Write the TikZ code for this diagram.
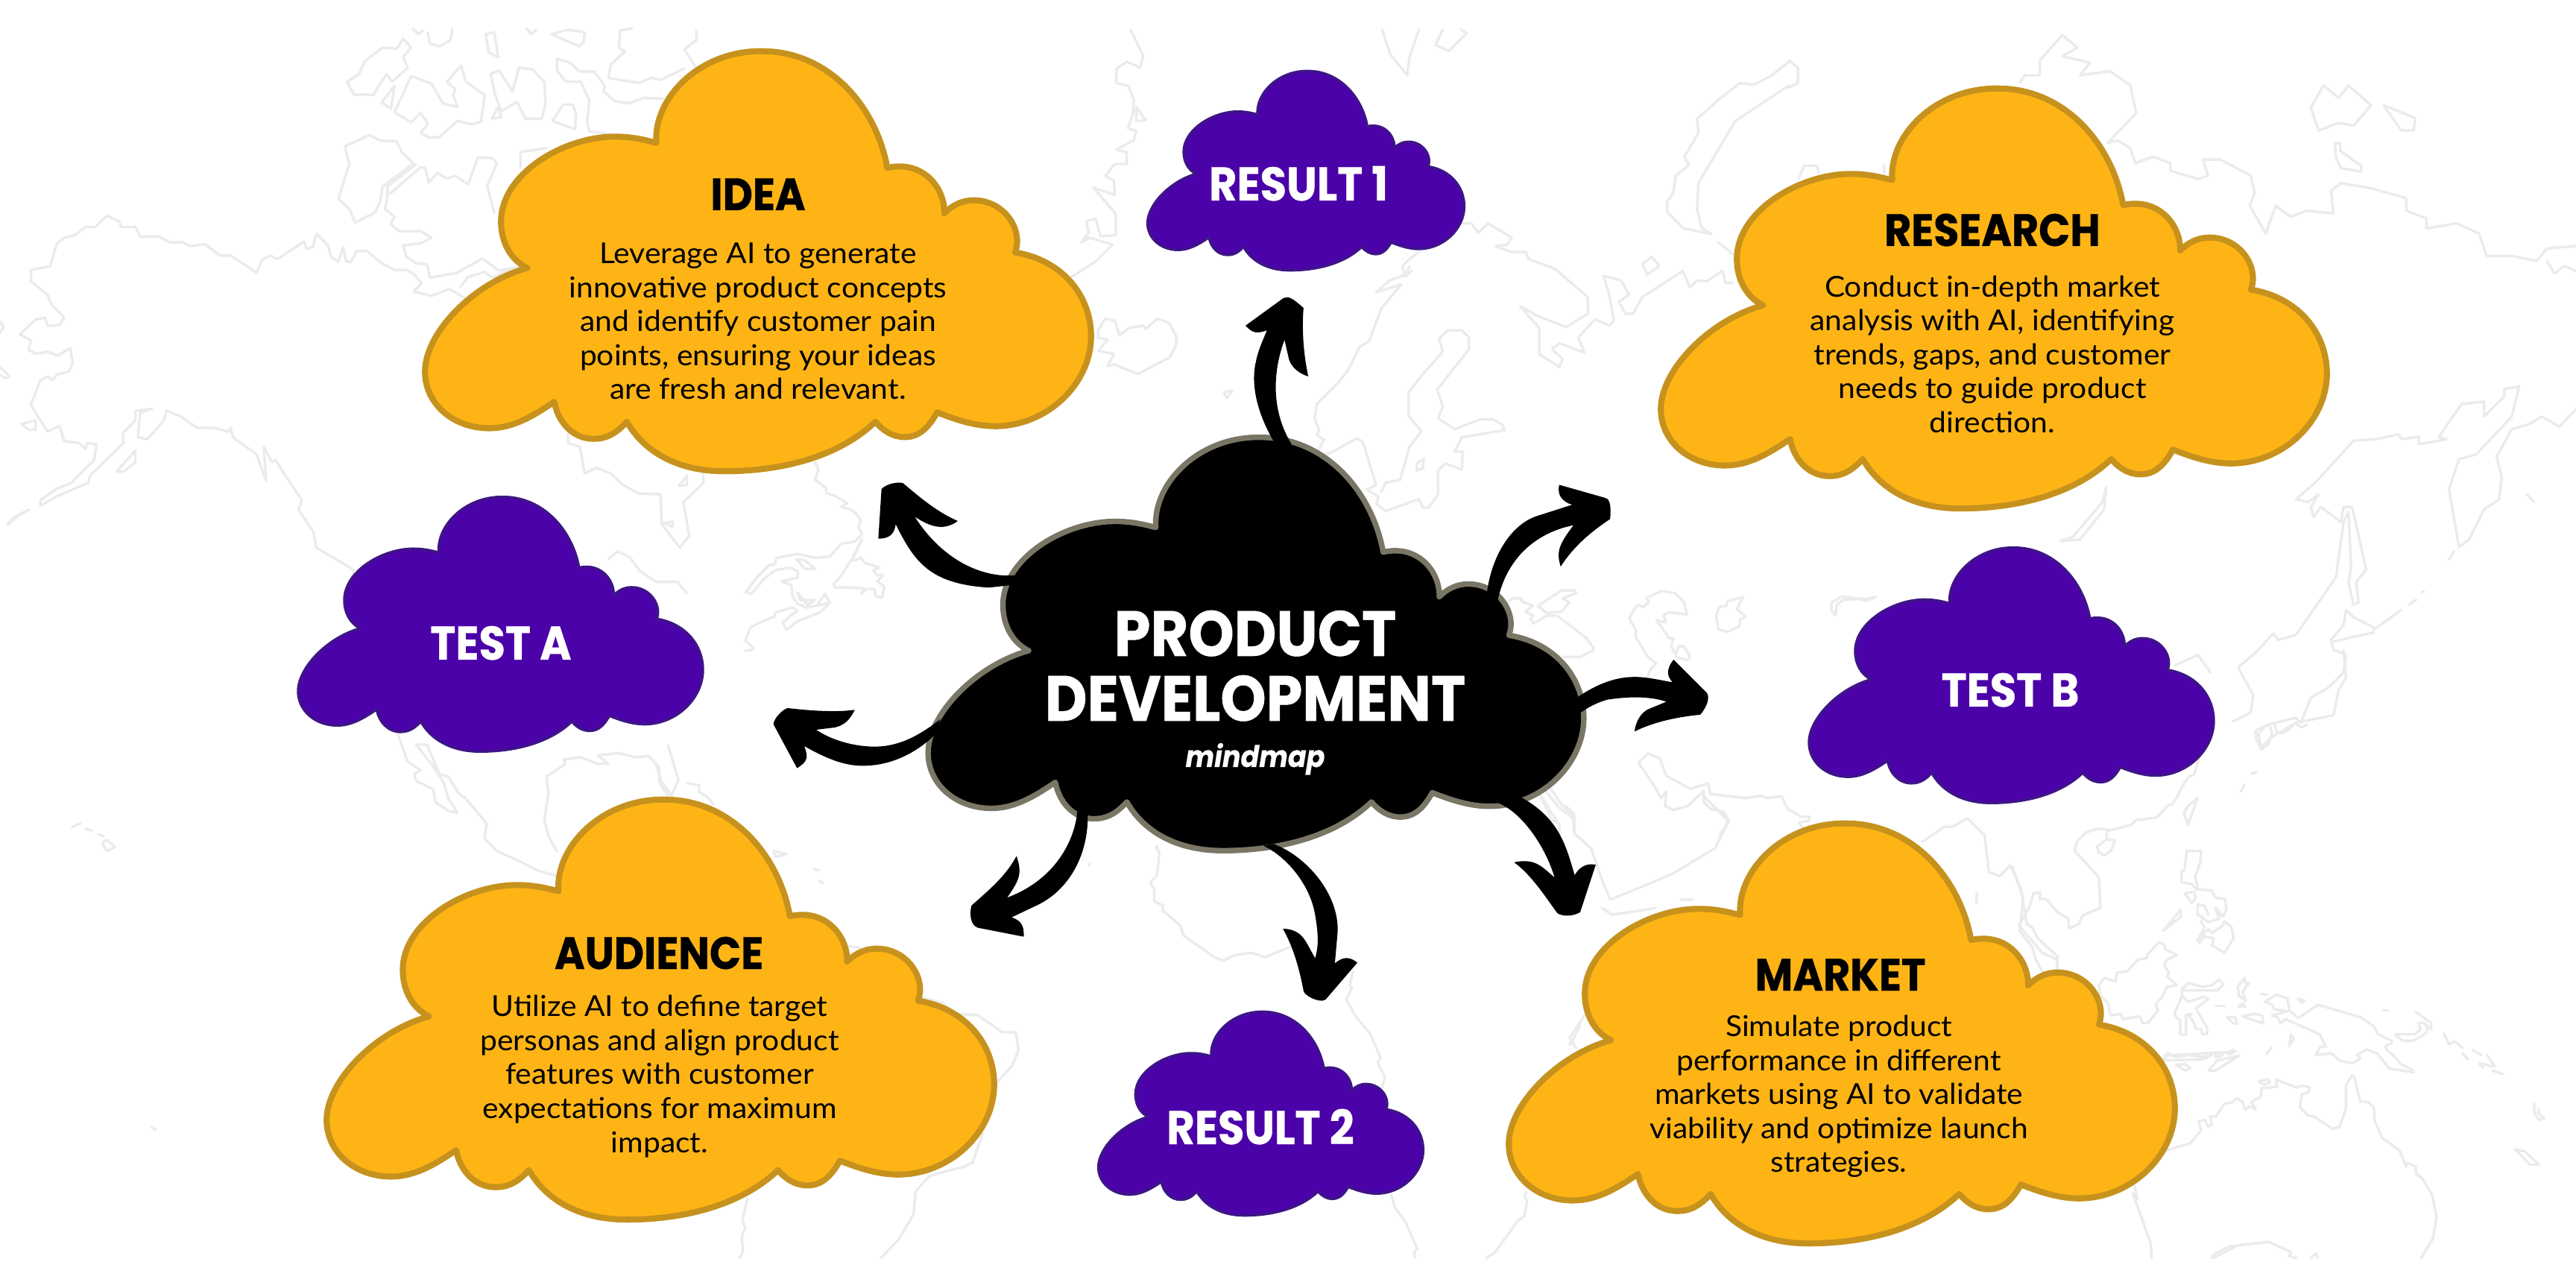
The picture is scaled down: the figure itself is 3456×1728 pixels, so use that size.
\documentclass[tikz,border=0pt]{standalone}
\usepackage{fontspec}
\setmainfont[FakeStretch=1.055]{Lato}
\newfontfamily\headf[FakeStretch=0.91,BoldFeatures={FakeBold=0.6},BoldItalicFeatures={FakeBold=0.3}]{Poppins}
\definecolor{gold}{HTML}{FFB416}
\definecolor{goldline}{HTML}{C6921D}
\definecolor{violet}{HTML}{4B02A8}
\definecolor{violetline}{HTML}{3D1585}
\definecolor{slateline}{HTML}{7A7666}
\definecolor{mapgray}{HTML}{EBEBEB}
\tikzset{
  mapline/.style={draw=mapgray,line width=0.95pt,line join=round,line cap=round},
  goldcloud/.style={fill=gold,draw=goldline,line width=2.3pt,line join=round},
  violetcloud/.style={fill=violet,draw=violetline,line width=0.95pt,line join=round},
  blackcloud/.style={fill=black,draw=slateline,line width=2.1pt,line join=round},
  brush/.style={fill=black,draw=none},
  headtext/.style={anchor=base,inner sep=0pt,text=black,font=\headf\bfseries\fontsize{17.3pt}{20pt}\selectfont},
  labeltext/.style={anchor=base,inner sep=0pt,text=white,font=\headf\bfseries\fontsize{18pt}{20pt}\selectfont},
  bodytext/.style={anchor=center,inner sep=0pt,align=center,text=black,font=\fontsize{11pt}{12.95pt}\selectfont},
}
\newcommand\cloudshape[5]{%
  \begin{scope}[shift={(#1,#2)},xscale={(#3-#1)/1412},yscale={(#4-#2)/1440}]
  \begin{scope}[shift={(-105,-65)}]
  \draw[#5] (597,383) .. controls (590,230) and (690,68) .. (820,72)
    .. controls (960,72) and (1060,260) .. (1083,468)
    .. controls (1160,440) and (1205,540) .. (1203,622)
    .. controls (1220,595) and (1240,578) .. (1265,578)
    .. controls (1330,578) and (1370,680) .. (1352,755)
    .. controls (1450,780) and (1512,900) .. (1512,1040)
    .. controls (1512,1200) and (1420,1345) .. (1310,1345)
    .. controls (1270,1345) and (1230,1325) .. (1188,1298)
    .. controls (1170,1350) and (1150,1382) .. (1120,1382)
    .. controls (1095,1382) and (1075,1362) .. (1058,1330)
    .. controls (980,1450) and (860,1498) .. (740,1498)
    .. controls (640,1498) and (570,1430) .. (535,1330)
    .. controls (515,1365) and (495,1388) .. (465,1388)
    .. controls (420,1388) and (390,1330) .. (382,1262)
    .. controls (330,1320) and (290,1352) .. (245,1352)
    .. controls (170,1352) and (110,1270) .. (110,1160)
    .. controls (110,1030) and (210,860) .. (325,808)
    .. controls (290,780) and (270,720) .. (270,650)
    .. controls (270,490) and (400,362) .. (510,362)
    .. controls (545,362) and (570,372) .. (597,383) -- cycle;
  \end{scope}
  \end{scope}}
\newcommand\mapl[1]{\draw[mapline] plot coordinates {#1};}
\begin{document}
\begin{tikzpicture}[x=0.01cm,y=-0.01cm]
\useasboundingbox (0,0) rectangle (3456,1728);
\fill[white] (0,0) rectangle (3456,1728);
% ---------- background map ----------
\begin{scope}[shift={(0,0)},xscale={1/1.568},yscale={1/1.96}]
\mapl{(65,710)(105,700)(120,640)(135,625)(155,620)(180,597)(200,597)(225,567)(250,582)(255,597)(285,597)(295,622)(335,622)(357,637)(385,637)(400,647)(432,642)(462,672)(485,672)(540,717)(552,682)(570,672)(583,682)(640,635)(645,655)(658,650)(666,615)(690,645)(697,677)(712,687)(722,650)(728,687)(738,690)(750,660)(772,660)(800,690)(830,710)(855,710)(870,720)(887,745)(870,767)(908,778)(945,760)(980,785)}
\mapl{(65,710)(65,740)(100,775)(108,800)(135,835)(125,855)(100,857)(95,835)(75,840)(42,880)(65,895)(60,920)(75,930)(100,925)(122,935)(148,915)(153,955)(145,977)(120,985)(110,1000)(100,990)(85,1000)(65,1065)(100,1135)(125,1120)(135,1160)(165,1165)(180,1180)(183,1165)(203,1168)(198,1210)(150,1270)(120,1285)(85,1315)(85,1330)(120,1305)(185,1270)(190,1250)(260,1165)(258,1140)(285,1105)(285,1080)(320,1075)(295,1085)(290,1150)(310,1155)(345,1105)(350,1080)(380,1095)(415,1125)(450,1125)(480,1135)(485,1125)(490,1150)(540,1195)(560,1265)(555,1175)(572,1215)(580,1210)(600,1250)(635,1315)(628,1340)(660,1400)(665,1440)(720,1480)(745,1500)(725,1568)}
\mapl{(15,1380)(45,1350)(62,1340)(30,1360)(15,1380)}
\mapl{(45,1115)(75,1105)(75,1130)(60,1130)(45,1115)}
\mapl{(245,1240)(285,1185)(285,1215)(260,1240)(245,1240)}
\mapl{(0,965)(20,990)(10,995)(0,985)}
\mapl{(0,845)(8,860)(0,875)}
\mapl{(730,215)(755,195)(768,160)(805,125)(835,128)(848,102)(865,125)(848,150)(858,178)(825,215)(813,195)(785,250)(760,248)(745,250)(730,215)}
\mapl{(803,270)(830,225)(823,285)(803,270)}
\mapl{(830,295)(865,200)(908,220)(932,272)(963,282)(953,250)(958,235)(940,215)(970,172)(980,215)(1020,250)(1012,320)(993,327)(962,318)(925,360)(905,362)(885,350)(900,325)(885,297)(865,322)(830,295)}
\mapl{(1032,195)(1050,185)(1078,240)(1092,178)(1120,182)(1145,215)(1148,270)(1140,312)(1105,312)(1088,268)(1055,292)(1042,250)(1032,195)}
\mapl{(1035,312)(1047,282)(1055,308)(1035,312)}
\mapl{(1162,318)(1185,275)(1205,275)(1212,300)(1210,340)(1162,318)}
\mapl{(1172,155)(1200,165)(1218,188)(1250,188)(1272,225)(1270,240)(1292,265)(1322,272)(1355,257)(1395,260)}
\mapl{(1172,155)(1172,185)(1190,215)(1222,215)(1240,265)(1235,320)(1240,345)(1290,355)}
\mapl{(1330,75)(1305,80)(1302,125)(1315,135)(1285,170)(1280,205)(1345,218)(1370,205)(1390,210)(1440,180)}
\mapl{(1465,80)(1465,105)(1440,130)(1465,180)}
\mapl{(900,85)(905,115)(925,122)(948,105)(952,75)}
\mapl{(868,75)(880,90)(890,80)}
\mapl{(1022,90)(1040,85)(1048,150)(1028,138)(1022,90)}
\mapl{(1160,90)(1195,78)(1230,85)(1228,110)(1218,122)(1160,90)}
\mapl{(1108,75)(1118,90)(1128,78)}
\mapl{(725,385)(778,355)(800,370)(835,372)(845,400)(870,430)(805,490)(800,530)(788,560)(747,585)(735,550)(712,522)(735,430)(725,385)}
\mapl{(875,432)(815,490)(815,520)(810,550)(830,570)(822,590)(840,608)(885,608)(908,625)(885,640)(848,645)(855,675)(875,692)(898,695)(905,730)(960,718)(1015,680)(1050,712)(1095,700)}
\mapl{(820,510)(885,440)(895,442)(902,480)(920,455)(940,470)(958,462)(985,485)(1005,415)(1035,415)(1045,430)(1025,490)(1040,560)}
\mapl{(968,755)(985,728)(1020,715)(1035,730)(1080,705)}
\mapl{(1095,440)(1095,400)(1120,395)(1150,390)}
\mapl{(1195,1140)(1195,1165)(1220,1175)(1230,1245)(1255,1230)(1285,1245)(1310,1275)(1345,1298)(1390,1300)(1392,1378)(1430,1440)(1450,1410)(1438,1320)(1480,1270)(1480,1240)}
\mapl{(1395,1375)(1415,1385)(1415,1372)(1395,1375)}
\mapl{(1428,1278)(1445,1252)(1445,1275)(1428,1278)}
\mapl{(1280,1470)(1300,1450)(1325,1465)(1345,1500)(1380,1530)(1425,1530)(1445,1560)}
\end{scope}
\begin{scope}[shift={(0,830)},scale={1/1.746}]
\mapl{(930,265)(955,335)(985,355)(970,365)(975,380)(1015,400)(1020,430)(1050,450)(1072,455)(1050,420)(1040,385)(1010,340)(975,295)(1000,295)(1030,365)(1050,370)(1075,410)(1090,420)(1140,480)(1135,515)(1165,545)(1210,565)(1260,590)(1305,603)}
\mapl{(1305,545)(1285,510)(1275,470)(1285,410)(1280,370)(1325,340)(1320,330)(1360,325)(1400,340)(1425,340)(1400,320)(1450,315)(1490,325)(1520,322)(1545,350)(1545,385)(1568,420)}
\mapl{(168,488)(188,480)}
\mapl{(200,492)(215,497)}
\mapl{(230,505)(243,510)}
\mapl{(240,525)(250,518)(270,535)(250,545)(240,525)}
\mapl{(355,1192)(365,1197)}
\end{scope}
\begin{scope}[shift={(1000,620)},scale={1/3}]
\mapl{(280,0)(295,30)(280,70)(325,105)(325,125)(360,135)(410,165)(385,180)(420,190)(445,205)(465,235)(455,260)(470,290)(440,320)(385,328)(340,380)(280,385)(210,370)(125,385)(120,410)(95,415)(50,460)(0,525)(25,530)(75,470)(120,435)(180,425)(212,440)(210,465)(145,480)(185,495)(190,540)(210,570)(245,585)(300,575)(340,565)(320,530)(290,575)}
\mapl{(190,585)(120,605)(120,620)(70,640)(20,665)(0,720)(30,745)(30,755)(0,760)}
\mapl{(470,310)(430,395)(445,395)(465,385)(480,405)(540,425)(515,435)(530,455)(555,455)(530,480)(560,500)(550,545)(525,540)(520,510)(490,510)(465,530)(480,510)(440,505)(360,505)(355,490)(380,465)(425,395)(470,310)}
\mapl{(150,645)(165,675)(210,640)(300,605)(340,565)}
\mapl{(150,645)(185,615)(210,600)(190,585)}
\mapl{(205,390)(240,395)(280,430)(240,430)(205,390)}
\mapl{(210,525)(220,555)(280,555)(250,575)(210,525)}
\end{scope}
\begin{scope}[shift={(880,1000)},scale={1/2.154}]
\mapl{(35,0)(65,100)(45,145)(15,105)(0,50)}
\mapl{(90,110)(125,115)(125,135)(150,150)(165,170)}
\mapl{(340,305)(378,315)(345,322)(340,305)}
\mapl{(457,358)(472,362)}
\mapl{(472,392)(482,398)}
\mapl{(555,580)(590,585)}
\mapl{(765,727)(830,745)(860,775)(930,780)(1000,828)(1040,830)(1048,880)(1030,925)(990,970)}
\mapl{(945,1120)(915,1205)(885,1220)(840,1230)(790,1245)(750,1290)(745,1355)(700,1430)(650,1482)}
\mapl{(265,1310)(250,1370)(258,1395)(248,1420)(252,1460)(243,1482)}
\end{scope}
\begin{scope}[shift={(1400,1000)},scale={1/2.154}]
\mapl{(330,290)(325,295)(335,310)(328,375)(308,397)(320,415)(320,450)(345,463)(345,478)(395,520)(405,550)(495,613)(520,622)(555,605)(603,600)(640,612)(720,580)}
\mapl{(895,650)(885,695)(892,700)(875,735)(900,780)(945,835)(975,905)(965,915)(987,960)(975,1000)}
\mapl{(1005,1300)(1015,1335)(1045,1375)(1080,1455)(1070,1465)(1075,1482)}
\mapl{(1435,140)(1465,190)(1490,230)(1490,270)}
\mapl{(1450,130)(1490,180)(1530,210)(1535,255)(1568,285)}
\mapl{(1395,1290)(1390,1305)(1398,1315)(1390,1360)(1370,1375)(1305,1465)(1280,1482)}
\mapl{(1568,775)(1520,845)(1540,875)}
\mapl{(133,342)(133,348)}
\end{scope}
\begin{scope}[shift={(1400,0)},scale={1/1.568}]
\mapl{(183,62)(210,118)(203,142)(175,130)(153,145)(153,175)(178,180)(190,210)(188,240)(178,270)(195,275)(190,295)(153,315)(175,320)(175,345)(150,345)(130,370)(148,380)(150,410)(105,395)(152,450)(152,495)(120,497)(110,460)(90,465)(95,490)(80,510)(97,500)(145,515)(110,550)(55,585)}
\mapl{(195,225)(215,253)(195,255)(195,225)}
\mapl{(712,62)(730,115)(765,158)(770,120)(790,62)}
\mapl{(840,62)(825,95)(853,107)(890,70)(878,62)}
\mapl{(115,695)(130,670)(150,675)(160,705)(180,690)(210,685)(215,692)(240,670)(265,680)(280,710)(278,728)(265,752)(198,787)(150,767)(135,770)(148,745)(115,738)(135,715)(115,710)(115,695)}
\mapl{(380,825)(398,822)(385,838)(380,825)}
\mapl{(575,850)(620,805)(640,780)(665,730)(685,718)(710,650)(753,598)(700,615)(728,590)(760,578)(755,560)(770,545)(790,530)}
\mapl{(770,560)(760,582)(775,570)}
\mapl{(575,850)(570,880)(580,905)(575,915)(590,925)(575,955)(600,955)(660,922)(672,930)(695,1005)(700,1020)(680,1030)(705,1045)(700,1060)(720,1075)(790,1050)(798,1068)(810,1068)(830,1040)(830,990)(845,975)(880,988)(882,950)(865,950)(880,920)(970,905)(965,893)(945,882)(920,882)(865,903)(830,880)(840,855)(828,820)(895,735)(895,710)(880,695)(850,695)(832,713)(840,740)(800,785)(768,825)(768,875)(795,907)(770,940)(750,1010)(720,1015)(710,1035)}
\mapl{(785,975)(800,965)(798,985)(785,990)(785,975)}
\mapl{(880,470)(900,470)(915,490)(935,470)(985,500)(975,515)(950,518)(985,530)(1015,530)(1020,545)(1075,565)(1145,625)(1145,660)(1100,688)(1040,665)(1003,645)(1043,690)(1043,745)(1085,772)(1092,755)(1070,735)(1085,722)(1138,742)(1125,710)(1160,672)(1190,685)(1200,675)(1190,620)(1178,580)(1215,590)(1232,620)(1210,635)(1225,660)(1240,660)(1260,625)(1345,570)(1360,605)(1375,590)(1395,592)(1428,570)(1435,595)(1450,595)}
\mapl{(1420,510)(1450,535)}
\mapl{(1260,555)(1280,540)(1295,560)(1270,578)(1260,555)}
\mapl{(1568,130)(1530,160)(1495,178)(1465,175)(1420,210)(1375,250)(1378,280)(1348,330)(1358,347)(1330,370)(1325,405)(1312,425)(1312,445)(1345,480)(1405,492)(1385,480)(1375,440)(1378,385)(1455,255)(1568,180)}
\end{scope}
\begin{scope}[shift={(2000,560)},scale={1/2.8}]
\mapl{(60,700)(80,680)(115,680)(115,690)(158,707)(130,730)(160,745)(150,755)(160,775)(210,745)(250,745)(360,830)(385,865)(385,875)(335,900)(270,900)}
\mapl{(178,708)(265,650)(315,650)(320,660)(270,680)(295,695)(265,730)(210,735)(178,708)}
\mapl{(520,755)(550,705)(575,712)(595,690)(585,680)(640,652)(692,660)(725,692)(737,740)(665,732)(650,745)(658,770)(622,762)(640,785)(670,830)(685,830)(678,860)(695,890)(705,860)(725,860)(750,900)(735,912)(695,900)}
\mapl{(520,755)(545,800)(545,825)(590,900)(622,925)(600,945)(590,975)}
\mapl{(860,710)(885,708)(890,690)(947,675)(925,720)(957,748)(935,760)(935,785)(890,805)(855,797)(847,745)(860,710)}
\mapl{(1295,745)(1280,725)(1280,695)(1320,673)(1400,683)(1445,675)(1410,690)(1385,682)(1325,685)(1300,705)(1295,745)}
\mapl{(555,1298)(590,1262)(635,1282)(660,1347)(750,1395)(817,1375)(825,1415)(955,1430)(1015,1422)(1040,1430)(1092,1423)(1115,1470)(1165,1500)(1200,1500)(1195,1515)(1158,1522)(1170,1540)}
\mapl{(555,1298)(615,1385)(640,1430)(660,1405)(655,1460)(685,1475)(740,1460)(800,1403)(800,1445)(825,1470)(875,1482)(895,1517)(860,1568)}
\mapl{(225,1395)(270,1460)(315,1500)(315,1568)}
\mapl{(185,1420)(220,1490)(225,1510)(255,1525)(260,1568)}
\end{scope}
\begin{scope}[shift={(2100,828)},scale={1/1.742}]
\mapl{(0,440)(20,460)(20,505)(60,540)(90,625)(105,660)(155,640)(250,600)(300,570)(350,540)(380,480)(375,470)(320,415)}
\mapl{(85,680)(110,695)(180,685)(210,680)}
\mapl{(270,660)(295,660)}
\mapl{(962,645)(960,670)}
\mapl{(835,525)(885,490)(905,490)(940,470)(980,510)(990,595)(1015,605)(1040,580)(1065,635)(1075,695)(1060,720)(1115,785)(1150,800)(1150,830)}
\mapl{(10,1000)(35,955)}
\mapl{(1515,1498)(1568,1470)}
\mapl{(1400,1025)(1568,1015)}
\end{scope}
\begin{scope}[shift={(2400,0)},scale={1/1.485}]
\mapl{(0,120)(18,135)(18,165)(0,175)}
\mapl{(460,165)(470,150)(500,150)(500,120)(545,70)(575,95)(545,112)(600,125)(580,150)(640,142)(680,170)(692,225)(635,285)(655,280)(680,295)(690,325)(725,312)(760,325)(760,340)(815,357)(835,350)(825,318)(860,318)(920,350)(928,385)(918,410)(950,465)(970,410)(1000,432)(1030,420)(1085,425)(1080,380)(1100,365)(1160,375)(1230,395)(1230,420)(1270,435)(1270,455)(1330,445)(1375,465)(1390,510)(1440,510)(1490,520)(1510,495)(1568,490)}
\mapl{(1510,520)(1525,545)(1545,530)(1568,540)}
\mapl{(20,355)(30,330)(55,330)(60,345)}
\mapl{(190,330)(190,345)}
\mapl{(1040,215)(1065,170)(1095,195)(1115,170)(1160,210)(1125,250)(1095,245)(1055,260)(1040,215)}
\mapl{(1185,210)(1248,235)(1245,260)(1220,260)(1185,210)}
\mapl{(1088,285)(1098,285)(1098,300)(1140,330)(1140,342)(1100,335)(1090,315)(1088,285)}
\mapl{(632,970)(628,1015)(580,1075)(540,1078)(565,1070)(625,1000)(632,970)}
\mapl{(1010,995)(1050,960)(1125,878)(1170,875)(1215,865)(1220,875)(1255,870)(1255,885)(1310,875)(1295,870)(1340,805)(1385,800)(1385,830)(1425,790)(1425,775)(1455,770)(1440,830)(1370,905)(1335,915)(1315,975)(1335,1090)(1355,1075)(1385,1015)(1415,995)(1420,950)(1410,910)(1440,855)(1475,845)(1500,830)(1535,850)(1568,815)}
\mapl{(1010,995)(1035,1000)(1055,985)(1040,1010)(1045,1030)(1060,1010)(1100,1040)(1105,1010)(1122,1010)(1150,1135)(1130,1160)(1135,1200)(1125,1205)(1115,1160)(1120,1130)(1115,1020)(1105,1040)(1090,1150)(1010,1265)(975,1275)(965,1262)(930,1300)(895,1330)(925,1385)(920,1420)(885,1437)}
\mapl{(1315,1115)(1325,1098)}
\mapl{(1470,985)(1485,1000)}
\mapl{(1165,1255)(1220,1215)}
\mapl{(1235,1205)(1250,1195)}
\mapl{(1260,1180)(1265,1178)}
\mapl{(1165,1250)(1125,1230)(1110,1215)(1105,1245)(1080,1275)(1085,1295)(1100,1300)(1110,1305)(1105,1340)(1075,1370)(1040,1390)(1030,1415)(1020,1440)(1010,1430)(950,1445)(930,1470)(940,1490)(960,1470)(1010,1440)(1085,1425)(1095,1375)(1110,1350)(1105,1295)}
\mapl{(1080,1280)(1120,1270)(1165,1260)}
\mapl{(770,1325)(815,1305)(840,1340)}
\end{scope}
\begin{scope}[shift={(2700,972)},scale={1/2.074}]
\mapl{(520,90)(505,140)(490,145)(468,180)(465,190)(445,222)(432,225)(403,258)(360,265)(345,265)(330,280)(270,295)(262,292)(238,290)(205,300)(180,325)(172,350)(240,425)(245,510)(195,532)(185,555)(157,568)(155,540)(125,522)(95,487)(75,485)(78,468)(58,470)(48,505)(35,530)(40,555)(55,565)(70,595)(125,645)(125,690)}
\mapl{(262,292)(262,320)(285,322)(275,350)(255,365)(240,355)(235,340)(262,320)}
\mapl{(0,395)(30,485)(20,575)(55,620)(65,655)(85,690)(125,735)}
\mapl{(477,245)(490,225)(515,205)(488,280)(477,245)}
\mapl{(485,352)(525,352)(522,385)(508,425)(515,450)(510,458)(555,462)(565,482)(592,485)(595,515)(585,535)(565,510)(575,540)(545,550)(525,535)}
\mapl{(485,352)(478,408)(470,408)(470,438)(500,445)(510,458)}
\mapl{(480,470)(505,465)(510,482)(498,497)(480,470)}
\mapl{(515,500)(515,530)(530,535)(525,550)(535,565)(515,600)(545,570)(555,580)(585,560)(590,548)(610,565)(615,595)(590,635)(555,615)(560,595)(535,590)(520,607)(512,597)}
\mapl{(515,500)(535,505)(545,530)}
\mapl{(418,575)(468,515)(468,535)(418,575)}
\mapl{(408,605)(375,640)(375,650)(348,655)(320,687)(290,690)(287,715)(255,705)(240,727)(245,755)(265,775)(273,810)(303,805)(305,820)(355,812)(362,832)(378,830)(405,795)(398,778)(415,760)(430,730)(458,725)(430,702)(435,690)(422,670)(430,655)(457,642)(425,625)(422,612)(408,605)}
\mapl{(472,735)(490,720)(530,730)(555,725)(575,710)(587,723)(570,740)(472,740)(472,735)}
\mapl{(472,735)(470,760)(450,805)(460,820)(467,822)(467,863)(483,863)(483,808)(500,805)(490,810)(505,830)(510,847)(525,848)(528,862)(542,862)(542,845)(510,790)(545,765)(535,757)(490,772)(472,755)}
\mapl{(627,730)(645,705)(647,720)(658,718)(640,745)(650,770)(630,755)(627,730)}
\mapl{(702,772)(735,752)(765,762)(770,795)(795,817)(850,780)(970,815)(1005,840)(1018,862)(1055,880)(1055,888)(1038,893)(1040,905)(1065,925)(1080,945)(1115,962)(1115,968)(1048,957)(1015,915)(985,905)(958,920)(968,930)(945,943)(910,935)(888,915)(843,920)(857,897)(872,897)(855,862)(760,820)(745,832)(738,815)(722,810)(765,798)(730,793)(720,778)(702,772)}
\mapl{(690,750)(708,752)}
\mapl{(565,783)(590,783)}
\mapl{(640,775)(628,785)(648,785)(640,775)}
\mapl{(795,763)(812,768)(805,775)(795,763)}
\mapl{(597,815)(620,815)(625,832)(615,832)(597,815)}
\mapl{(640,812)(675,805)(695,810)(697,832)(640,812)}
\mapl{(1030,795)(1045,795)}
\mapl{(770,895)(775,862)(783,875)(770,895)}
\mapl{(707,918)(720,898)}
\mapl{(1122,800)(1165,830)(1165,848)(1145,830)(1130,830)(1135,848)(1120,862)(1065,862)(1085,880)(1115,880)(1150,860)(1155,845)(1145,830)}
\mapl{(1200,860)(1215,890)(1230,882)(1253,900)}
\mapl{(1280,905)(1305,920)}
\mapl{(1252,915)(1268,932)}
\mapl{(1320,920)(1343,952)}
\mapl{(1300,942)(1335,952)}
\mapl{(1310,955)(1300,945)}
\mapl{(1335,963)(1365,973)}
\mapl{(1452,1055)(1452,1080)(1465,1100)(1480,1095)(1462,1080)(1465,1070)}
\mapl{(1398,1182)(1425,1188)(1465,1225)(1440,1225)(1398,1182)}
\mapl{(430,1185)(495,1165)(525,1130)(518,1105)(535,1100)(545,1120)(555,1115)(550,1090)(565,1092)(590,1055)(610,1052)(625,1040)(640,1050)(648,1072)(660,1062)(677,1072)(665,1050)(692,1035)(692,1012)(737,1008)(733,988)(790,1010)(808,1005)(828,1010)(822,1025)(805,1028)(800,1065)(822,1088)(838,1090)(890,1125)(910,1120)(928,1070)(928,1005)(943,978)(950,978)(968,1050)(990,1050)(1007,1068)(1007,1100)(1028,1150)(1077,1185)(1095,1230)(1100,1220)(1122,1230)(1122,1250)(1140,1262)(1168,1310)(1180,1372)(1170,1430)(1137,1485)}
\mapl{(338,1280)(348,1320)(335,1305)(385,1445)(387,1485)}
\mapl{(555,1485)(560,1475)(605,1452)(713,1440)(775,1468)(770,1480)(790,1485)}
\mapl{(830,1485)(845,1472)(850,1485)}
\mapl{(685,992)(710,988)(717,995)(700,1003)(685,992)}
\mapl{(395,920)(425,932)(430,915)(455,925)(490,920)(525,925)(555,920)(530,932)(420,935)}
\mapl{(565,915)(585,920)(565,927)(565,915)}
\mapl{(595,915)(615,905)(610,918)(595,915)}
\mapl{(545,963)(570,935)(630,922)(565,963)(545,963)}
\mapl{(455,947)(480,945)(495,957)(480,963)(455,947)}
\mapl{(680,15)(715,0)(722,25)(712,55)(692,70)(685,28)(675,25)(680,15)}
\mapl{(730,0)(735,20)(750,25)(780,5)}
\mapl{(790,0)(805,8)(820,0)}
\mapl{(665,138)(678,132)}
\mapl{(635,187)(645,168)}
\end{scope}
% ---------- clouds ----------
\cloudshape{567}{66}{1467}{635}{goldcloud}
\cloudshape{2225}{116}{3125}{685}{goldcloud}
\cloudshape{435}{1070}{1337}{1639}{goldcloud}
\cloudshape{2021}{1102}{2921}{1671}{goldcloud}
\cloudshape{1538}{94}{1966}{364}{violetcloud}
\cloudshape{398}{665}{945}{1010}{violetcloud}
\cloudshape{2425}{733}{2972}{1079}{violetcloud}
\cloudshape{1472}{1356}{1911}{1632}{violetcloud}
\cloudshape{1242}{584}{2128}{1144}{blackcloud}
% ---------- brush arrows ----------
\begin{scope}[shift={(1400,0)},scale={1/1.568}]
\coordinate (rootup) at (485,930);
\fill[brush] (rootup) .. controls (450,870) and (435,810) .. (447,760) .. controls (452,735) and (462,715) .. (470,695) .. controls (450,702) and (440,702) .. (425,685) -- (505,627) .. controls (515,622) and (525,628) .. (547,648) .. controls (543,700) and (548,750) .. (557,792) .. controls (535,785) and (518,770) .. (515,750) -- (507,715) .. controls (490,760) and (470,850) .. (522,935) -- cycle;
\coordinate (rootur) at (933,1245);
\fill[brush] (rootur) .. controls (945,1160) and (990,1100) .. (1040,1085) -- (1112,1062) .. controls (1090,1055) and (1080,1040) .. (1085,1020) -- (1180,1047) .. controls (1190,1048) and (1195,1060) .. (1192,1092) .. controls (1150,1120) and (1115,1150) .. (1088,1192) .. controls (1078,1160) and (1085,1145) .. (1115,1105) .. controls (1040,1120) and (975,1170) .. (955,1265) -- cycle;
\end{scope}
\begin{scope}[shift={(2000,560)},scale={1/2.8}]
\coordinate (rootright) at (320,1055);
\fill[brush] (rootright) .. controls (400,1000) and (470,975) .. (540,975) .. controls (590,975) and (640,988) .. (683,995) .. controls (665,975) and (655,950) .. (687,910) -- (812,1035) .. controls (825,1055) and (810,1090) .. (787,1117) .. controls (700,1125) and (610,1145) .. (540,1180) .. controls (545,1140) and (565,1110) .. (590,1097) -- (660,1068) .. controls (590,1045) and (510,1050) .. (440,1060) .. controls (400,1070) and (365,1090) .. (333,1112) -- cycle;
\end{scope}
\begin{scope}[shift={(1400,1000)},scale={1/2.154}]
\coordinate (rootlr) at (1310,165);
\fill[brush] (rootlr) .. controls (1380,190) and (1450,290) .. (1477,382) .. controls (1440,350) and (1420,325) .. (1360,338) .. controls (1410,375) and (1445,430) .. (1485,485) .. controls (1500,495) and (1530,495) .. (1551,482) -- (1596,345) .. controls (1570,340) and (1550,350) .. (1535,375) .. controls (1510,290) and (1490,210) .. (1380,150) -- cycle;
\coordinate (rootdown) at (635,290);
\fill[brush] (rootdown) .. controls (700,320) and (770,400) .. (785,490) .. controls (795,550) and (795,580) .. (785,615) .. controls (770,590) and (760,565) .. (745,550) .. controls (730,535) and (710,530) .. (692,530) .. controls (725,590) and (740,650) .. (752,712) .. controls (760,725) and (785,738) .. (805,738) -- (815,735) -- (907,628) .. controls (885,610) and (865,610) .. (842,630) -- (850,540) .. controls (855,430) and (760,320) .. (665,285) -- cycle;
\end{scope}
\begin{scope}[shift={(880,1000)},scale={1/2.154}]
\coordinate (rootll) at (1218,190);
\fill[brush] (rootll) .. controls (1210,280) and (1150,390) .. (1015,440) .. controls (1050,390) and (1060,370) .. (1042,320) .. controls (1010,380) and (960,420) .. (912,463) .. controls (905,490) and (910,520) .. (930,527) -- (1063,553) .. controls (1065,515) and (1050,505) .. (1028,497) -- (1110,458) .. controls (1200,410) and (1250,310) .. (1248,200) -- cycle;
\end{scope}
\begin{scope}[shift={(1000,620)},scale={1/3}]
\coordinate (rootul) at (1095,455);
\fill[brush] (rootul) .. controls (950,470) and (790,390) .. (682,220) .. controls (730,250) and (790,285) .. (855,237) .. controls (770,200) and (700,140) .. (635,85) .. controls (620,78) and (570,85) .. (548,108) -- (535,308) .. controls (580,308) and (600,290) .. (605,250) .. controls (680,400) and (740,490) .. (980,505) -- (1070,495) -- cycle;
\coordinate (rootleft) at (785,1035);
\fill[brush] (rootleft) .. controls (700,1100) and (620,1145) .. (520,1145) .. controls (430,1145) and (340,1115) .. (285,1077) -- (360,1068) .. controls (395,1060) and (420,1040) .. (440,997) .. controls (360,1008) and (260,1000) .. (170,990) .. controls (150,995) and (115,1030) .. (113,1055) -- (208,1232) .. controls (250,1205) and (255,1190) .. (237,1143) .. controls (320,1190) and (400,1225) .. (480,1222) .. controls (600,1220) and (700,1160) .. (765,1095) -- cycle;
\end{scope}
% ---------- text ----------
\node[labeltext,font=\headf\bfseries\fontsize{24.4pt}{28pt}\selectfont] (prod) at (1684,880) {PRODUCT};
\node[labeltext,font=\headf\bfseries\fontsize{24.4pt}{28pt}\selectfont] (dev) at (1684,967) {DEVELOPMENT};
\node[labeltext,font=\headf\bfseries\itshape\fontsize{11.4pt}{14pt}\selectfont] (mind) at (1684,1029) {mindmap};
\node[headtext] (ideah) at (1017,282) {IDEA};
\node[bodytext] (ideab) at (1017,431) {Leverage AI to generate\\innovative product concepts\\and identify customer pain\\points, ensuring your ideas\\are fresh and relevant.};
\node[headtext] (resh) at (2673,330) {RESEARCH};
\node[bodytext] (resb) at (2673,475) {Conduct in-depth market\\analysis with AI, identifying\\trends, gaps, and customer\\needs to guide product\\direction.};
\node[headtext] (audh) at (884,1300) {AUDIENCE};
\node[bodytext] (audb) at (885,1444) {Utilize AI to define target\\personas and align product\\features with customer\\expectations for maximum\\impact.};
\node[headtext] (markh) at (2469,1329) {MARKET};
\node[bodytext] (markb) at (2467,1471) {Simulate product\\performance in different\\markets using AI to validate\\viability and optimize launch\\strategies.};
\node[labeltext] (r1) at (1742,269) {RESULT 1};
\node[labeltext] (r2) at (1691,1535) {RESULT 2};
\node[labeltext] (ta) at (672,885) {TEST A};
\node[labeltext] (tb) at (2697,948) {TEST B};
\end{tikzpicture}
\end{document}
